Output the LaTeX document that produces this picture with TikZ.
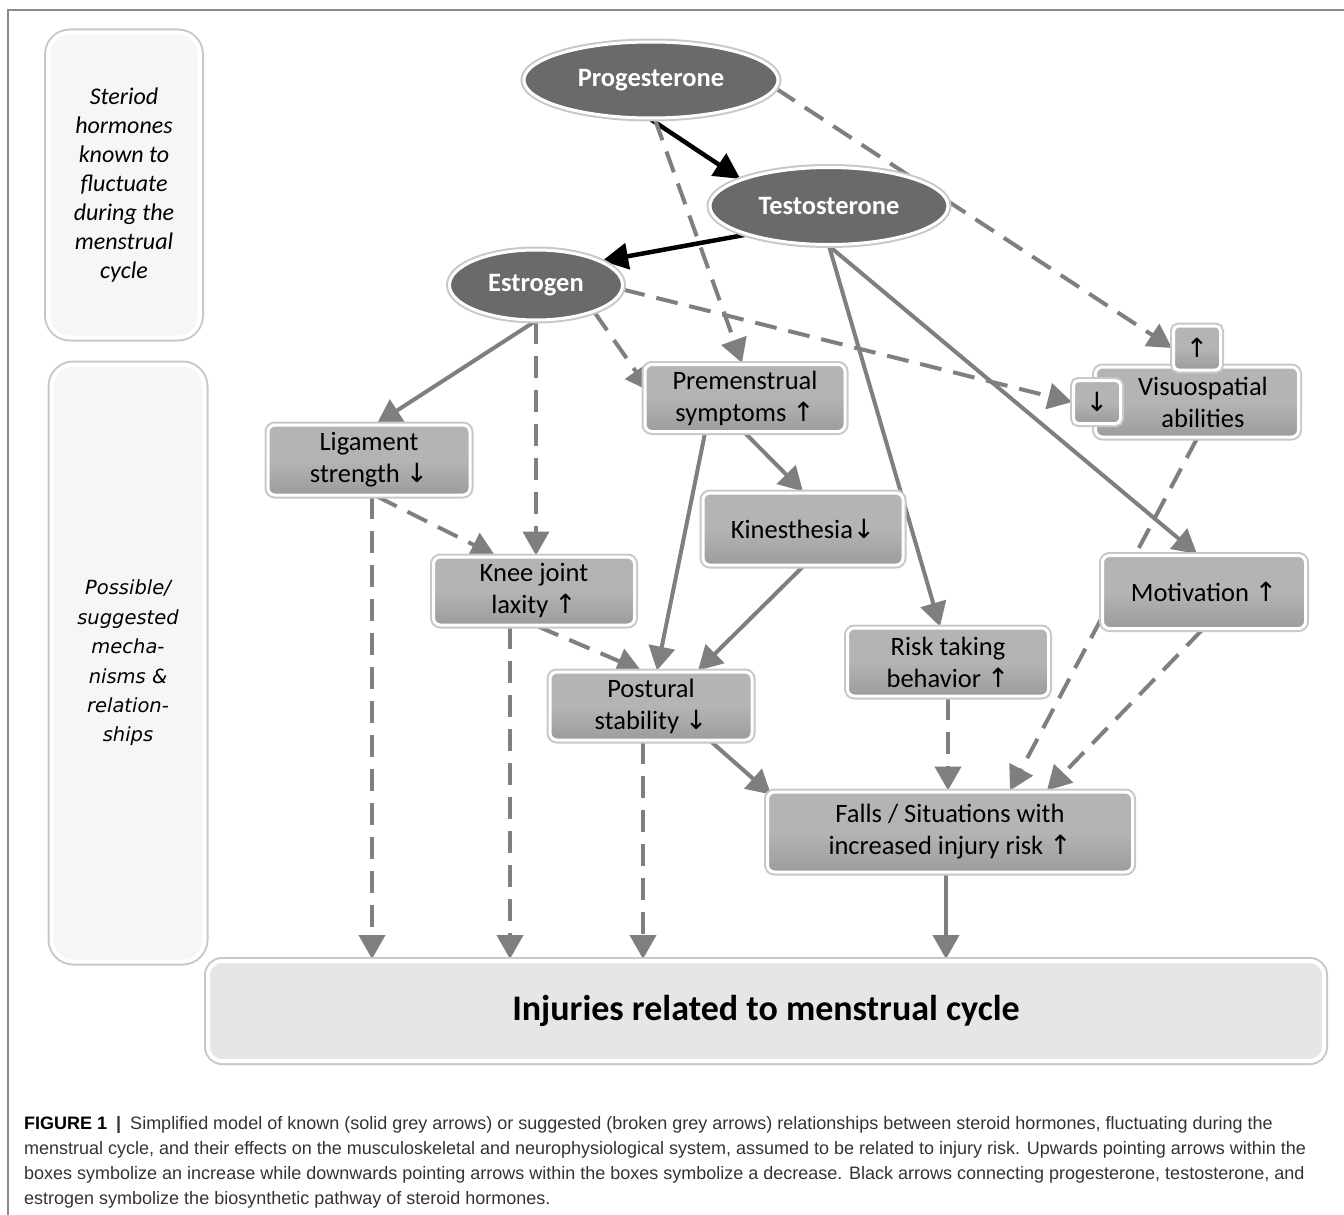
\documentclass[tikz,border=0pt]{standalone}
\usepackage{fontspec}
\setmainfont{Carlito}
\newfontfamily\capfont{Liberation Sans}
\newfontfamily\vfont{DejaVu Sans}
\newfontfamily\arrfont{DejaVu Sans}
\usetikzlibrary{shapes.geometric,arrows.meta,calc}
\pgfdeclarelayer{bg}
\pgfsetlayers{bg,main}
\newcommand\uar{{\arrfont ↑}}
\newcommand\dar{{\arrfont ↓}}
\definecolor{boxgrey}{HTML}{B4B4B4}
\definecolor{boxdark}{HTML}{9C9C9C}
\definecolor{ellgrey}{HTML}{6A6A6A}
\definecolor{arrgrey}{HTML}{7F7F7F}
\definecolor{lightbox}{HTML}{F6F6F6}
\definecolor{injbox}{HTML}{E6E6E6}
\definecolor{halo}{HTML}{C8C8C8}
\definecolor{framegrey}{HTML}{8C8C8C}
\definecolor{captext}{HTML}{333333}
\begin{document}
\begin{tikzpicture}[x=1pt,y=-1pt,
 mbox/.style={rectangle, rounded corners=7pt, draw=white, line width=3pt,
   top color=boxgrey, bottom color=boxdark, middle color=boxgrey, shading angle=0,
   preaction={draw=halo, line width=7pt}, align=center,
   font=\fontsize{26.5}{32}\selectfont, inner sep=0pt, text=black},
 hormone/.style={ellipse, fill=ellgrey, draw=white, line width=3pt,
   preaction={draw=halo, line width=7pt}, font=\fontsize{26.5}{30}\selectfont\bfseries,
   text=white, inner sep=0pt},
 sidebox/.style={rectangle, rounded corners=22pt, fill=lightbox, draw=white, line width=4pt,
   preaction={draw=halo, line width=8pt}, align=center, inner sep=0pt, text=black},
 solidarr/.style={draw=arrgrey, line width=4pt, -{Triangle[length=24pt,width=26pt]}},
 dasharr/.style={solidarr, dash pattern=on 22pt off 12pt},
 blackarr/.style={draw=black, line width=4.5pt, -{Triangle[length=26pt,width=26pt]}},
 capline/.style={anchor=base west, inner sep=0pt, text=captext,
   font=\capfont\fontsize{18}{25}\selectfont},
]
\useasboundingbox (0,0) rectangle (1344,1215);
\draw[framegrey, line width=1.2pt] (8,1215) -- (8,10) -- (1344,10);

% side boxes
\node[sidebox, minimum width=152pt, minimum height=305pt,
  font=\fontsize{24}{29}\selectfont\itshape] (side1) at (124,185)
  {Steriod\\hormones\\known to\\fluctuate\\during the\\menstrual\\cycle};
\node[sidebox, minimum width=153pt, minimum height=597pt,
  font=\vfont\fontsize{19.5}{29.4}\selectfont\itshape] (side2) at (128,663)
  {Possible/\\suggested\\mecha-\\nisms \&\\relation-\\ships};
\node[sidebox, fill=injbox, rounded corners=14pt, minimum width=1116pt, minimum height=100pt,
  font=\fontsize{36}{40}\selectfont\bfseries] (inj) at (766,1011)
  {Injuries related to menstrual cycle};

% hormones
\node[hormone, minimum width=254pt, minimum height=76pt] (prog) at (651,80) {Progesterone};
\node[hormone, minimum width=238pt, minimum height=77pt] (test) at (829,206) {Testosterone};
\node[hormone, minimum width=173pt, minimum height=70pt] (estr) at (536,285) {Estrogen};

% boxes
\node[mbox, minimum width=200pt, minimum height=67pt] (pms) at (745,398) {Premenstrual\\symptoms \uar};
\node[mbox, minimum width=202pt, minimum height=70pt] (lig) at (369,460) {Ligament\\strength \dar};
\node[mbox, minimum width=200pt, minimum height=72pt] (kin) at (803,529) {Kinesthesia\dar};
\node[mbox, minimum width=201pt, minimum height=68pt] (knee) at (534,591) {Knee joint\\laxity \uar};
\node[mbox, minimum width=202pt, minimum height=68pt] (post) at (651,706) {Postural\\stability \dar};
\node[mbox, minimum width=201pt, minimum height=68pt] (risk) at (948,662) {Risk taking\\behavior \uar};
\node[mbox, minimum width=203pt, minimum height=73pt] (mot) at (1204,592) {Motivation \uar};
\node[mbox, minimum width=203pt, minimum height=70pt] (visuo) at (1197,402)
  {\hspace*{12pt}Visuospatial\\\hspace*{12pt}abilities};
\node[mbox, minimum width=47pt, minimum height=44pt, rounded corners=5pt] (up) at (1197,348) {\uar};
\node[mbox, minimum width=47pt, minimum height=43pt, rounded corners=5pt] (down) at (1097,402) {\dar};
\node[mbox, minimum width=365pt, minimum height=80pt] (falls) at (950,832)
  {Falls / Situations with\\increased injury risk \uar};

% connectors
\begin{pgfonlayer}{bg}
\draw[blackarr] (prog.south) -- (test.163);
\draw[blackarr] (test.199) -- (estr.20);
\draw[solidarr] (estr.-92) -- ($(lig.north)+(8,0)$);
\draw[solidarr] (test.south) -- ($(risk.north)+(-8,0)$);
\draw[solidarr] (test.south) -- ($(mot.north)+(-7,0)$);
\draw[solidarr] ($(pms.south)+(-40,0)$) -- ($(post.north)+(6,0)$);
\draw[solidarr] (pms.south) -- (kin.north);
\draw[solidarr] (kin.south) -- ($(post.north)+(47,0)$);
\draw[solidarr] ($(post.south)+(60,0)$) -- ($(falls.north west)+(5,4)$);
\draw[solidarr] ($(falls.south)+(-4,0)$) -- ($(inj.north)+(180,0)$);
\draw[dasharr] ($(prog.south)+(4,0)$) -- ($(pms.north)+(-3,0)$);
\draw[dasharr] (prog.-4) -- (up.west);
\draw[dasharr] (estr.-3) -- (down.west);
\draw[dasharr] (estr.-25) -- ($(pms.west)+(6,-7)$);
\draw[dasharr] (estr.south) -- ($(knee.north)+(2,0)$);
\draw[dasharr] ($(lig.south)+(8,0)$) -- ($(knee.north)+(-39,0)$);
\draw[dasharr] ($(lig.south)+(3,0)$) -- ($(inj.north)+(-394,0)$);
\draw[dasharr] ($(knee.south)+(-24,0)$) -- ($(inj.north)+(-256,0)$);
\draw[dasharr] ($(knee.south)+(4,0)$) -- ($(post.north)+(-10,0)$);
\draw[dasharr] ($(post.south)+(-8,0)$) -- ($(inj.north)+(-123,0)$);
\draw[dasharr] (risk.south) -- ($(falls.north)+(-2,0)$);
\draw[dasharr] (visuo.south) -- ($(falls.north)+(60,0)$);
\draw[dasharr] ($(mot.south)+(-2,0)$) -- ($(falls.north)+(97,0)$);
\end{pgfonlayer}

% caption
\node[capline] (cap1) at (24,1129) {\textcolor{black}{\bfseries FIGURE 1}\enspace{\bfseries|}\enspace Simplified model of known (solid grey arrows) or suggested (broken grey arrows) relationships between steroid hormones, fluctuating during the};
\node[capline] (cap2) at (24,1154) {menstrual cycle, and their effects on the musculoskeletal and neurophysiological system, assumed to be related to injury risk. Upwards pointing arrows within the};
\node[capline] (cap3) at (24,1179) {boxes symbolize an increase while downwards pointing arrows within the boxes symbolize a decrease. Black arrows connecting progesterone, testosterone, and};
\node[capline] (cap4) at (24,1204) {estrogen symbolize the biosynthetic pathway of steroid hormones.};
\end{tikzpicture}
\end{document}
